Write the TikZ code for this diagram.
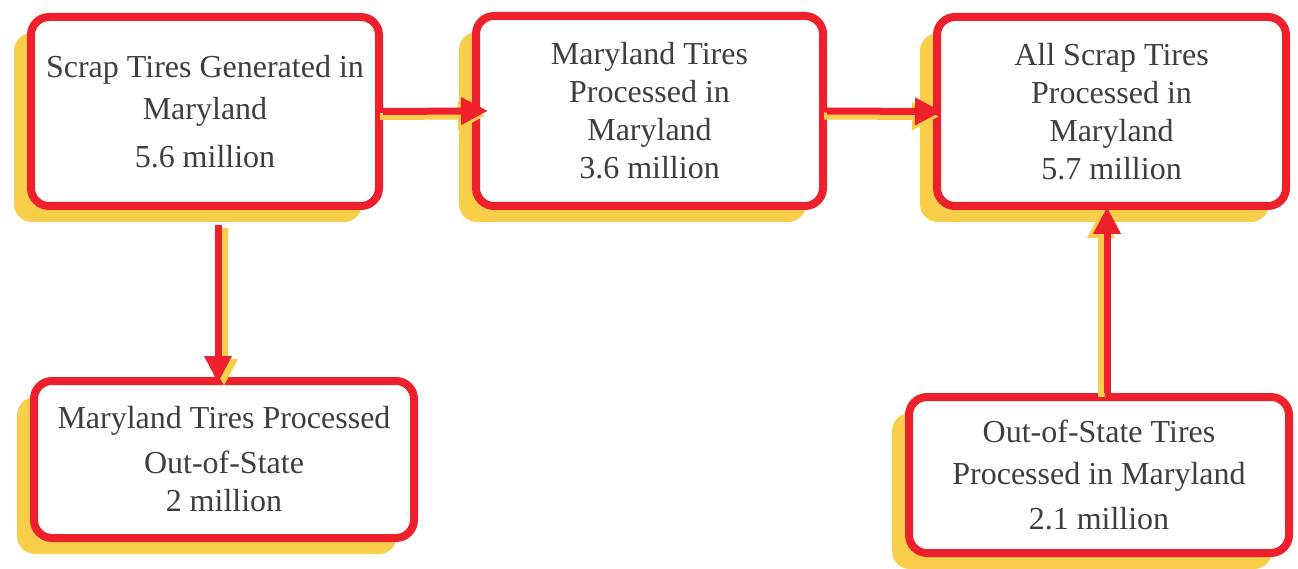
\documentclass[tikz,border=0pt]{standalone}
\usepackage{fontspec}
\setmainfont{Liberation Serif}
\usetikzlibrary{arrows.meta,shadows,calc}
\definecolor{tred}{RGB}{238,32,44}
\definecolor{shy}{RGB}{248,206,74}
\definecolor{tgray}{RGB}{62,62,62}
\tikzset{
  box/.style={draw=tred, line width=8pt, rounded corners=18pt, fill=white,
    align=center, font=\fontsize{32}{38}\selectfont, text=tgray, inner sep=0pt,
    drop shadow={shadow xshift=-17pt, shadow yshift=-16pt, fill=shy, opacity=1}},
  flow/.style={draw=tred, line width=7pt, -{Triangle[length=27pt,width=26pt]}, tred},
  flowshade/.style={draw=shy, line width=7pt, -{Triangle[length=27pt,width=26pt]}, shy}
}
\begin{document}
\begin{tikzpicture}[x=1pt,y=-1pt]
\useasboundingbox[fill=white] (0,0) rectangle (1298,569);

\node[box, minimum width=348pt, minimum height=189pt] (b1) at (205,111.5)
  {Scrap Tires Generated in\\[4pt]Maryland\\[10pt]5.6 million};
\node[box, minimum width=347pt, minimum height=190pt] (b2) at (649.5,111)
  {Maryland Tires\\Processed in\\Maryland\\3.6 million};
\node[box, minimum width=349pt, minimum height=189pt] (b3) at (1111.5,111.5)
  {All Scrap Tires\\Processed in\\Maryland\\5.7 million};
\node[box, minimum width=380pt, minimum height=157pt] (b4) at (224,459.5)
  {Maryland Tires Processed\\[7pt]Out-of-State\\2 million};
\node[box, minimum width=380pt, minimum height=156pt] (b5) at (1099,475)
  {Out-of-State Tires\\[4pt]Processed in Maryland\\[7pt]2.1 million};

% connector shadows
\draw[flowshade, shorten >=-16pt, transform canvas={xshift=-3pt,yshift=-5pt}] (b1.east) -- (b2.west);
\draw[flowshade, shorten >=-9pt, transform canvas={xshift=-3pt,yshift=-5pt}] (b2.east) -- (b3.west);
\draw[flowshade, shorten >=-6pt, transform canvas={xshift=6pt,yshift=-3pt}]
  ([xshift=13pt,yshift=-15pt]b1.south) -- ([xshift=13pt]b1.south |- b4.north);
\draw[flowshade, shorten >=-3pt, transform canvas={xshift=-6pt,yshift=-4pt}]
  ([xshift=8pt]b5.north) -- ([xshift=8pt]b5.north |- b3.south);

% connectors
\draw[flow, shorten >=-16pt] (b1.east) -- (b2.west);
\draw[flow, shorten >=-9pt] (b2.east) -- (b3.west);
\draw[flow, shorten >=-6pt] ([xshift=13pt,yshift=-15pt]b1.south) -- ([xshift=13pt]b1.south |- b4.north);
\draw[flow, shorten >=-3pt] ([xshift=8pt]b5.north) -- ([xshift=8pt]b5.north |- b3.south);
\end{tikzpicture}
\end{document}
